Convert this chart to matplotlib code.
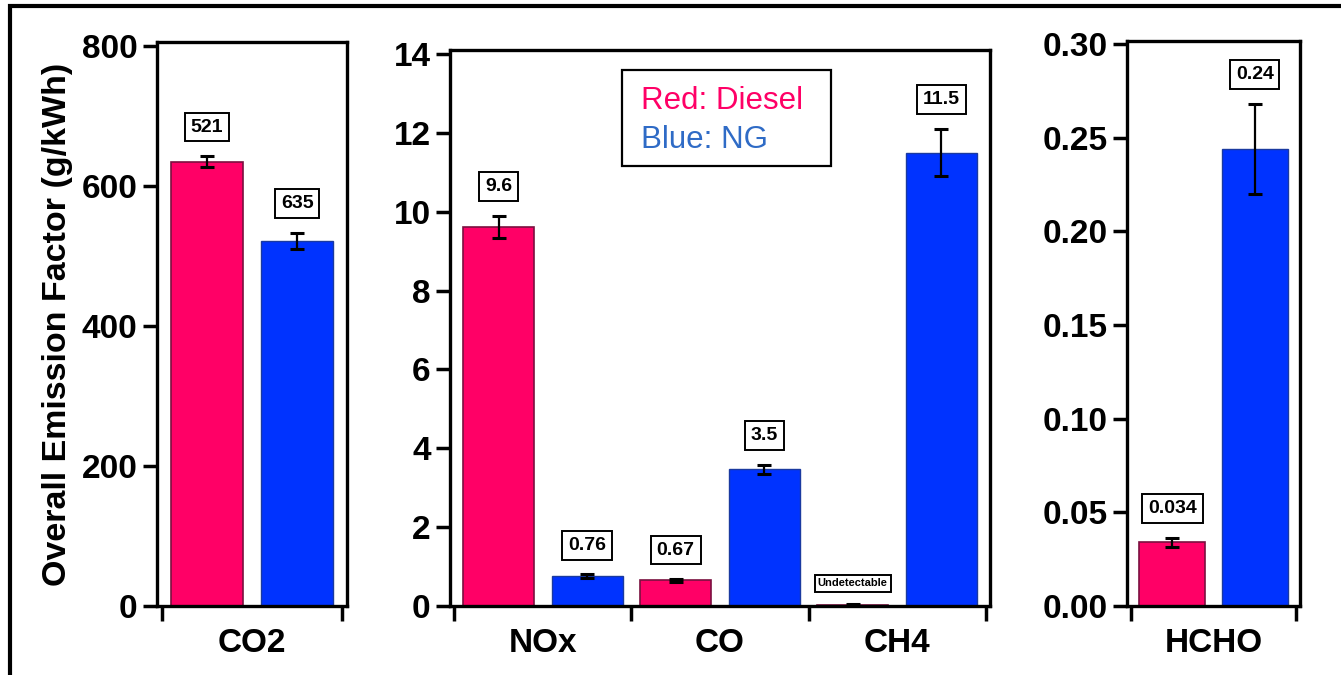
import numpy as np
import matplotlib
matplotlib.use("Agg")
import matplotlib.pyplot as plt
from matplotlib.patches import Rectangle

plt.rcParams['font.family'] = ['Liberation Sans', 'DejaVu Sans']

# Datos por panel
co2_groups = ['CO2']
co2_diesel = [634]
co2_diesel_err = [8]
co2_ng = [521]
co2_ng_err = [12]
co2_diesel_lbl = ['521']
co2_ng_lbl = ['635']

mid_groups = ['NOx', 'CO', 'CH4']
mid_diesel = [9.62, 0.65, 0.03]
mid_diesel_err = [0.28, 0.03, 0.02]
mid_ng = [0.76, 3.47, 11.5]
mid_ng_err = [0.04, 0.11, 0.6]
mid_diesel_lbl = ['9.6', '0.67', 'Undetectable']
mid_ng_lbl = ['0.76', '3.5', '11.5']

hcho_groups = ['HCHO']
hcho_diesel = [0.034]
hcho_diesel_err = [0.0025]
hcho_ng = [0.244]
hcho_ng_err = [0.024]
hcho_diesel_lbl = ['0.034']
hcho_ng_lbl = ['0.24']

RED = '#FF0066'
BLUE = '#0033FF'

W, H = 1341, 675
fig = plt.figure(figsize=(W / 100, H / 100), dpi=100)


def px_axes(left, right, top, bottom):
    return fig.add_axes([left / W, 1 - bottom / H, (right - left) / W, (bottom - top) / H])


def draw_panel(ax, groups, dvals, derr, nvals, nerr, dlbl, nlbl, ylim, yticks, ytfmt):
    x = np.arange(len(groups))
    w = 0.4
    ax.bar(x - 0.25, dvals, w, color=RED, edgecolor='#7a1040', linewidth=1.2, zorder=2)
    ax.bar(x + 0.25, nvals, w, color=BLUE, edgecolor='#1a3aa0', linewidth=1.0, zorder=2)
    ax.errorbar(x - 0.25, dvals, yerr=derr, fmt='none', ecolor='black',
                elinewidth=1.6, capsize=5, capthick=2.2, zorder=3)
    ax.errorbar(x + 0.25, nvals, yerr=nerr, fmt='none', ecolor='black',
                elinewidth=1.6, capsize=5, capthick=2.2, zorder=3)
    for xs, vals, errs, lbls in [(x - 0.25, dvals, derr, dlbl), (x + 0.25, nvals, nerr, nlbl)]:
        for xi, v, e, t in zip(xs, vals, errs, lbls):
            small = t == 'Undetectable'
            ax.annotate(t, (xi, v + e), xytext=(0, 15 if small else 21),
                        textcoords='offset points', ha='center', va='center',
                        fontsize=8 if small else 14, fontweight='bold',
                        bbox=dict(boxstyle='square,pad=0.3', fc='white', ec='black', lw=1.4))
    ax.set_xlim(-0.525, len(groups) - 0.475)
    ax.set_ylim(*ylim)
    ax.set_yticks(yticks)
    ax.set_yticklabels([ytfmt.format(t) for t in yticks])
    # ticks del eje x en los limites de grupo, etiquetas en el centro
    ax.set_xticks(np.arange(len(groups) + 1) - 0.5)
    ax.set_xticklabels([])
    ax.set_xticks(x, minor=True)
    ax.set_xticklabels(groups, minor=True)
    ax.tick_params(axis='x', which='major', direction='out', length=11, width=2.5)
    ax.tick_params(axis='x', which='minor', length=0, pad=16, labelsize=24)
    ax.tick_params(axis='y', direction='out', length=10, width=2.5, pad=4, labelsize=24)
    for lab in ax.get_xticklabels(minor=True) + ax.get_yticklabels():
        lab.set_fontweight('bold')
    for sp in ax.spines.values():
        sp.set_linewidth(2.4)


ax1 = px_axes(157, 347, 42, 606)
draw_panel(ax1, co2_groups, co2_diesel, co2_diesel_err, co2_ng, co2_ng_err,
           co2_diesel_lbl, co2_ng_lbl, (0, 805), [0, 200, 400, 600, 800], '{:d}')
ax1.set_ylabel('Overall Emission Factor (g/kWh)', fontsize=24.5, fontweight='bold', labelpad=6)

ax2 = px_axes(450, 990, 50, 606)
draw_panel(ax2, mid_groups, mid_diesel, mid_diesel_err, mid_ng, mid_ng_err,
           mid_diesel_lbl, mid_ng_lbl, (0, 14.1), [0, 2, 4, 6, 8, 10, 12, 14], '{:d}')

ax3 = px_axes(1127, 1300, 41, 606)
draw_panel(ax3, hcho_groups, hcho_diesel, hcho_diesel_err, hcho_ng, hcho_ng_err,
           hcho_diesel_lbl, hcho_ng_lbl, (0, 0.3016),
           [0.0, 0.05, 0.10, 0.15, 0.20, 0.25, 0.30], '{:.2f}')

# Leyenda en texto
fig.text(641 / W, 1 - 101 / H, 'Red: Diesel', color=RED, fontsize=22.5,
         ha='left', va='center')
fig.text(641 / W, 1 - 140 / H, 'Blue: NG', color='#2F6BC6', fontsize=22.5,
         ha='left', va='center')
fig.patches.append(Rectangle((622 / W, 1 - 166 / H), (831 - 622) / W, (166 - 70) / H,
                             transform=fig.transFigure, fill=False, ec='black', lw=1.6))

# marco exterior
fig.patches.append(Rectangle((10 / W, -0.1), 1.2, 1 - 5.5 / H + 0.1,
                             transform=fig.transFigure, fill=False, ec='black', lw=3,
                             clip_on=False))

fig.savefig('out.png', dpi=100)
